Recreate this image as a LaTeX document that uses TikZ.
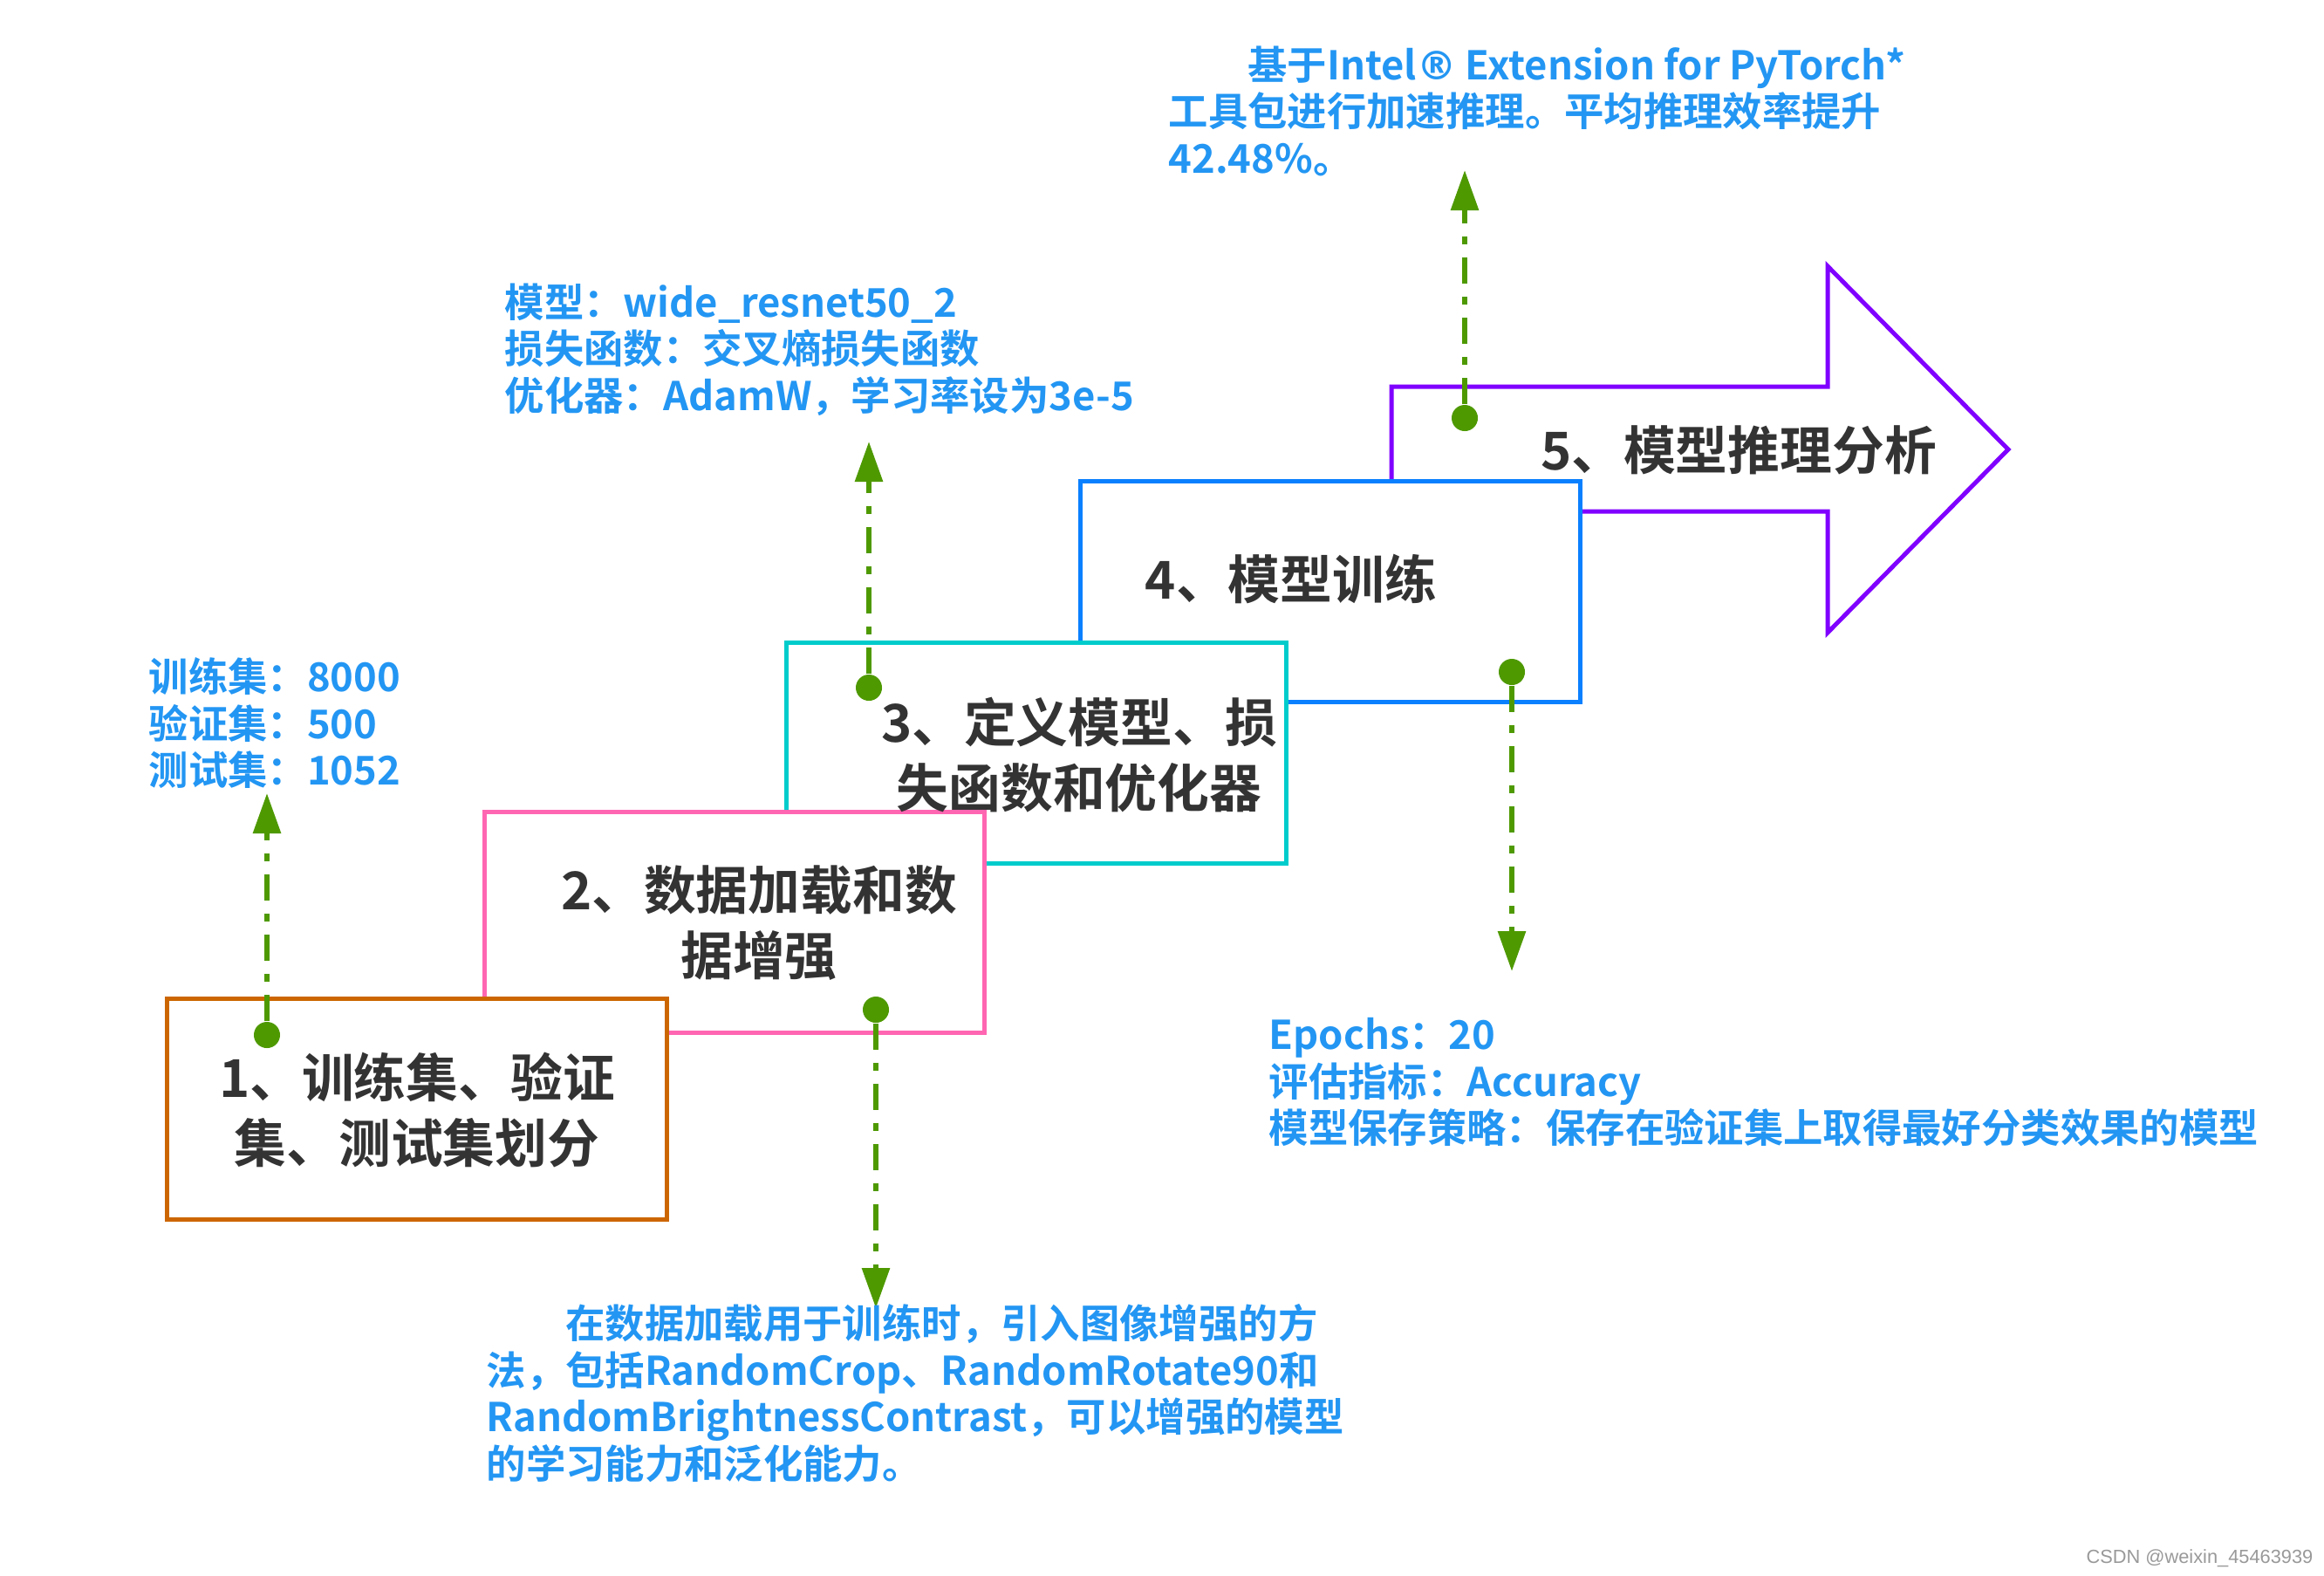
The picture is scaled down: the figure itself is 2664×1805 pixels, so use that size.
\documentclass[tikz,border=0pt]{standalone}
\usepackage{fontspec}
\newfontfamily\yahei{Noto Sans CJK SC}[BoldFont={Noto Sans CJK SC Bold}]
\newfontfamily\regfont{DejaVu Sans}
\newfontfamily\wmfont{Liberation Sans}
\usetikzlibrary{arrows.meta}

\definecolor{boxorange}{RGB}{204,102,0}
\definecolor{boxpink}{RGB}{255,102,178}
\definecolor{boxcyan}{RGB}{0,204,204}
\definecolor{boxblue}{RGB}{10,128,255}
\definecolor{arrowpurple}{RGB}{128,0,255}
\definecolor{leadgreen}{RGB}{78,153,0}
\definecolor{notblue}{RGB}{35,150,243}
\definecolor{textgray}{RGB}{51,51,51}

\tikzset{
  stepbox/.style={draw, line width=0.05cm, fill=white, minimum width=5.73cm, minimum height=2.52cm, inner sep=0pt},
  steplabel/.style={text=textgray, font=\yahei\bfseries\fontsize{17}{21.3}\selectfont, align=center, inner sep=0pt},
  note/.style={text=notblue, font=\yahei\bfseries\fontsize{12.9}{15.2}\selectfont, align=left, anchor=north west, inner sep=0pt},
  gdot/.style={circle, fill=leadgreen, inner sep=0pt, minimum size=0.3cm},
  lead/.style={leadgreen, line width=0.06cm, dash pattern=on 0.30cm off 0.15cm on 0.09cm off 0.15cm, -{Triangle[length=0.46cm, width=0.31cm]}}
}

\begin{document}
\begin{tikzpicture}[x=0.01cm, y=-0.01cm]
    \useasboundingbox (0,0) rectangle (2664,1805);
    % step 5: the big arrow
    \draw[arrowpurple, line width=0.05cm, fill=white, line join=miter]
      (1595,586) -- (1595,443) -- (2095,443) -- (2095,305) -- (2302,515)
      -- (2095,725) -- (2095,586) -- cycle;
    % steps 4..1, each drawn over the one before
    \node[stepbox, draw=boxblue] (s4) at (1525,678) {};
    \node[stepbox, draw=boxcyan] (s3) at (1188,863) {};
    \node[stepbox, draw=boxpink] (s2) at (842,1057) {};
    \node[stepbox, draw=boxorange] (s1) at (478,1271) {};
    \node[steplabel] (l1) at (478,1272) {1、训练集、验证\\集、测试集划分};
    \node[steplabel] (l2) at (870,1058) {2、数据加载和数\\据增强};
    \node[steplabel] (l3) at (1237,865) {3、定义模型、损\\失函数和优化器};
    \node[steplabel] (l4) at (1480,663) {4、模型训练};
    \node[steplabel] (l5) at (1993,516) {5、模型推理分析};
    % dots and leads
    \node[gdot] (d1) at (306,1186) {};
    \node[gdot] (d2) at (1004,1157) {};
    \node[gdot] (d3) at (996,788) {};
    \node[gdot] (d4) at (1733,770) {};
    \node[gdot] (d5) at (1679,479) {};
    \coordinate (t1) at (306,909);
    \coordinate (t2) at (1004,1499);
    \coordinate (t3) at (996,506);
    \coordinate (t4) at (1733,1113);
    \coordinate (t5) at (1679,195);
    \draw[lead] (d1) -- (t1);
    \draw[lead] (d2) -- (t2);
    \draw[lead] (d3) -- (t3);
    \draw[lead] (d4) -- (t4);
    \draw[lead] (d5) -- (t5);
    % notes
    \node[note] (n1) at (170,753) {训练集：8000\\验证集：500\\测试集：1052};
    \node[note] (n2) at (578,324) {模型：wide\_resnet50\_2\\损失函数：交叉熵损失函数\\优化器：AdamW，学习率设为3e-5};
    \node[note] (n3) at (1339,52) {\hspace*{2em}基于Intel{\regfont\bfseries ®} Extension for PyTorch*\\工具包进行加速推理。平均推理效率提升\\42.48\%。};
    \node[note] (n4) at (1454,1166) {Epochs：20\\评估指标：Accuracy\\模型保存策略：保存在验证集上取得最好分类效果的模型};
    \node[note] (n5) at (557,1494) {\hspace*{2em}在数据加载用于训练时，引入图像增强的方\\法，包括RandomCrop、RandomRotate90和\\RandomBrightnessContrast，可以增强的模型\\的学习能力和泛化能力。};
    \node[text=gray!80, font=\wmfont\fontsize{6.2}{7}\selectfont, anchor=east, inner sep=0pt] (wm) at (2652,1786) {CSDN @weixin\_45463939};
\end{tikzpicture}
\end{document}
